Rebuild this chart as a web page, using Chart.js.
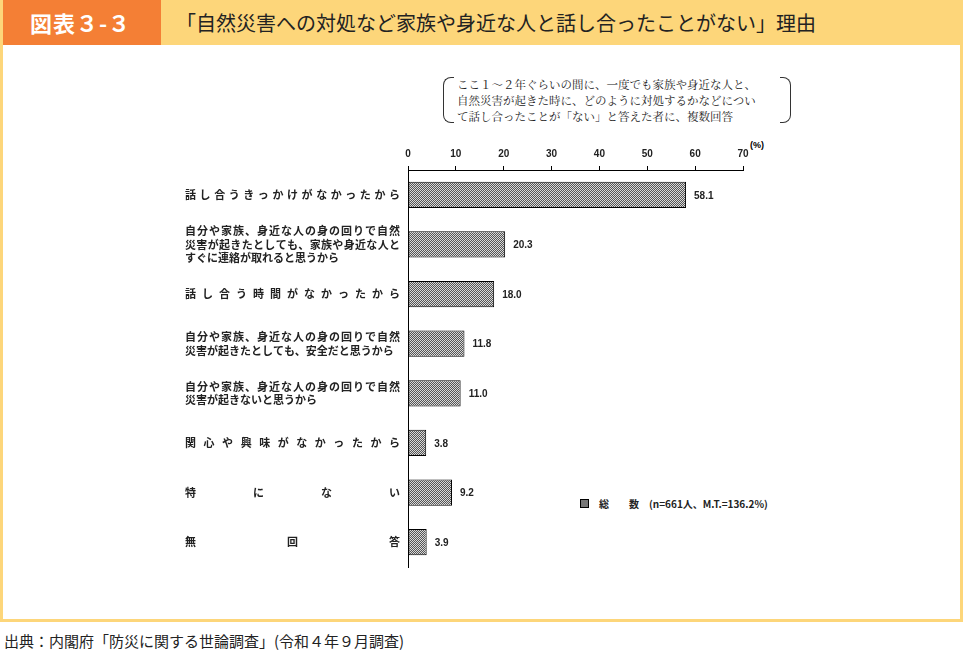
<!DOCTYPE html>
<html><head><meta charset="utf-8">
<script src="https://cdn.jsdelivr.net/npm/chart.js@4"></script>
<style>
body{margin:0;width:963px;height:655px;background:#fff;position:relative;font-family:"Noto Sans CJK JP",sans-serif;overflow:hidden}
.frame{position:absolute;left:0;top:0;width:957px;height:619px;border:3px solid #FDD67A;border-top:none}
.hdr{position:absolute;left:0;top:0;width:963px;height:45px;background:#FDD67A}
.num{position:absolute;left:0;top:0;width:161px;height:45px;background:#F47F35;color:#fff;font-size:22px;font-weight:bold;line-height:45px;text-align:center;letter-spacing:1px}
.ttl{position:absolute;left:176px;top:0;line-height:45px;font-size:20px;color:#222}
.note{position:absolute;left:443px;top:77px;width:348px;height:46px;font-family:"Noto Serif CJK JP","Noto Sans CJK JP",serif;font-size:11.5px;line-height:16px;color:#222}
.note .l{position:absolute;left:0;top:0;width:10px;height:44px;border:1px solid #333;border-right:none;border-radius:8px 0 0 8px}
.note .r{position:absolute;right:0;top:0;width:10px;height:44px;border:1px solid #333;border-left:none;border-radius:0 8px 8px 0}
.note .t{position:absolute;left:14px;top:-1px;white-space:nowrap}
.pct{position:absolute;left:750px;top:140px;font-size:9px;font-weight:bold;font-family:Arial,"Liberation Sans",sans-serif}
.leg{position:absolute;left:580px;top:496px;font-size:10px;font-weight:bold;white-space:nowrap;color:#222}
.leg i{display:inline-block;width:7px;height:7px;border:1px solid #000;background:#777;margin-right:10px;vertical-align:0px}
.src{position:absolute;left:4px;top:630px;font-size:15px;color:#222}
#wrap{position:absolute;left:175px;top:140px;width:620px;height:440px}
</style></head><body>
<div class="hdr"></div><div class="num">図表３-３</div>
<div class="ttl">「自然災害への対処など家族や身近な人と話し合ったことがない」理由</div>
<div class="frame"></div>
<div class="note"><div class="l"></div><div class="r"></div><div class="t">ここ１～２年ぐらいの間に、一度でも家族や身近な人と、<br>自然災害が起きた時に、どのように対処するかなどについ<br>て話し合ったことが「ない」と答えた者に、複数回答</div></div>
<div class="pct">(%)</div>
<div class="leg"><i></i>総　　数　(n=661人、M.T.=136.2%)</div>
<div class="src">出典：内閣府「防災に関する世論調査」(令和４年９月調査)</div>
<div id="wrap"><canvas id="c"></canvas></div>
<script>
const categories=[
 ["話し合うきっかけがなかったから"],
 ["自分や家族、身近な人の身の回りで自然","災害が起きたとしても、家族や身近な人と","すぐに連絡が取れると思うから"],
 ["話し合う時間がなかったから"],
 ["自分や家族、身近な人の身の回りで自然","災害が起きたとしても、安全だと思うから"],
 ["自分や家族、身近な人の身の回りで自然","災害が起きないと思うから"],
 ["関心や興味がなかったから"],
 ["特にない"],
 ["無回答"]
];
const values=[58.1,20.3,18.0,11.8,11.0,3.8,9.2,3.9];
const xTicks=[0,10,20,30,40,50,60,70];

function pattern(){
 const p=document.createElement('canvas');p.width=4;p.height=4;const g=p.getContext('2d');
 g.fillStyle='#d8d8d8';g.fillRect(0,0,4,4);g.fillStyle='#555';
 g.fillRect(0,0,1,1);g.fillRect(2,0,1,1);g.fillRect(1,1,1,1);g.fillRect(3,1,1,1);
 g.fillRect(0,2,1,1);g.fillRect(2,2,1,1);g.fillRect(1,3,1,1);g.fillRect(3,3,1,1);
 return document.getElementById('c').getContext('2d').createPattern(p,'repeat');
}
const LEFT=233;
const labelPlugin={id:'lbl',afterDraw(ch){
 const c=ch.ctx,ys=ch.scales.y,xs=ch.scales.x;
 c.save();c.fillStyle='#222';c.font='bold 11px "Noto Sans CJK JP"';c.textBaseline='middle';
 const x0=10,x1=LEFT-8,W=x1-x0;
 categories.forEach((lines,i)=>{
  const yc=ys.getPixelForValue(i);const lh=13.5;
  lines.forEach((ln,j)=>{
   const y=yc+(j-(lines.length-1)/2)*lh;
   const chars=[...ln];
   const just=(lines.length===1)||(j<lines.length-1);
   if(just){
    const tw=chars.reduce((s,ch2)=>s+c.measureText(ch2).width,0);
    const gap=(W-tw)/(chars.length-1);let x=x0;
    chars.forEach(ch2=>{c.textAlign='left';c.fillText(ch2,x,y);x+=c.measureText(ch2).width+gap;});
   } else {c.textAlign='left';c.fillText(ln,x0,y);}
  });
  c.font='bold 10px Arial, "Liberation Sans"';c.textAlign='left';
  c.fillText(values[i].toFixed(1),xs.getPixelForValue(values[i])+8,yc+1);
  c.font='bold 11px "Noto Sans CJK JP"';
 });
 c.restore();
}};
new Chart(document.getElementById('c'),{
 type:'bar',
 data:{labels:categories.map(l=>l.join('')),datasets:[{data:values,backgroundColor:pattern(),borderColor:'#000',borderWidth:1,borderSkipped:false,barPercentage:0.53,categoryPercentage:1}]},
 options:{indexAxis:'y',responsive:true,maintainAspectRatio:false,animation:false,
  layout:{padding:{right:52,bottom:13}},
  plugins:{legend:{display:false},tooltip:{enabled:false}},
  scales:{
   x:{position:'top',min:0,max:70,afterFit(s){s.height=30},
    afterBuildTicks(s){s.ticks=xTicks.map(v=>({value:v}))},
    grid:{drawOnChartArea:false,tickLength:4,color:'#000'},border:{color:'#000'},
    ticks:{padding:6,color:'#222',font:{size:10,weight:'bold',family:'Arial'}}},
   y:{afterFit(s){s.width=LEFT},grid:{display:false},border:{color:'#000'},ticks:{display:false}}
  }},
 plugins:[labelPlugin]
});
</script></body></html>
